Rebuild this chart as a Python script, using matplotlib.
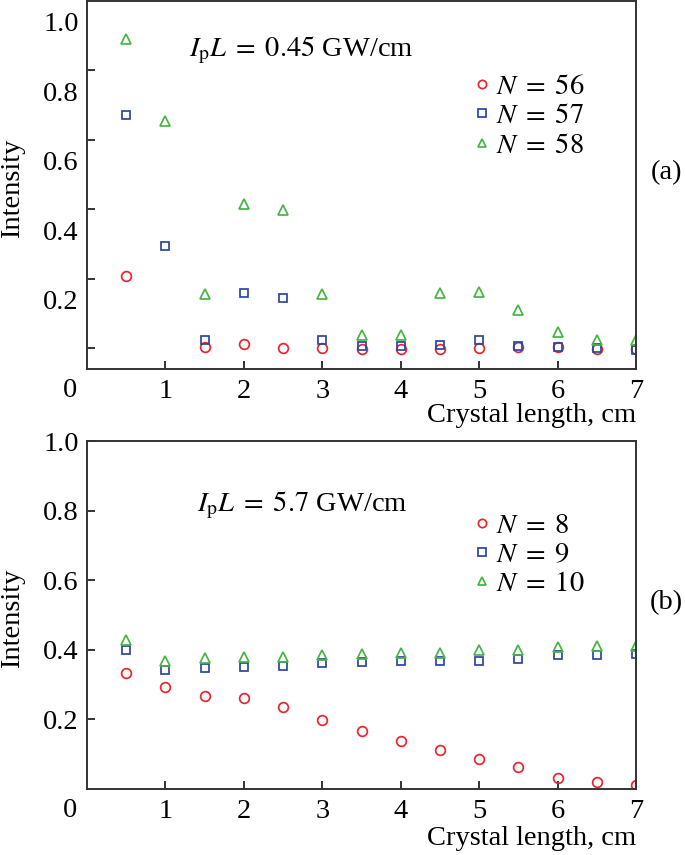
import numpy as np
import matplotlib
matplotlib.use("Agg")
import matplotlib.pyplot as plt

plt.rcParams["font.family"] = "serif"
plt.rcParams["font.serif"] = ["Liberation Serif", "DejaVu Serif"]
plt.rcParams["mathtext.fontset"] = "stix"

# crystal length, cm
length = [0.5, 1.0, 1.5, 2.0, 2.5, 3.0, 3.5, 4.0, 4.5, 5.0, 5.5, 6.0, 6.5, 7.0]

# (a) I_pL = 0.45 GW/cm  (red point at 1 cm is missing in the original)
a_n56 = [0.268, np.nan, 0.064, 0.071, 0.060, 0.060, 0.058, 0.058, 0.057, 0.060, 0.062, 0.062, 0.058, 0.057]
a_n57 = [0.733, 0.355, 0.084, 0.219, 0.204, 0.084, 0.067, 0.067, 0.069, 0.084, 0.067, 0.064, 0.060, 0.055]
a_n58 = [0.950, 0.714, 0.215, 0.476, 0.457, 0.215, 0.098, 0.098, 0.218, 0.223, 0.170, 0.106, 0.084, 0.084]

# (b) I_pL = 5.7 GW/cm
b_n8 = [0.333, 0.293, 0.266, 0.261, 0.237, 0.199, 0.167, 0.139, 0.112, 0.085, 0.062, 0.031, 0.019, 0.012]
b_n9 = [0.400, 0.342, 0.347, 0.352, 0.354, 0.362, 0.364, 0.369, 0.369, 0.369, 0.374, 0.384, 0.384, 0.388]
b_n10 = [0.427, 0.369, 0.376, 0.379, 0.378, 0.386, 0.388, 0.392, 0.392, 0.398, 0.400, 0.407, 0.410, 0.412]

xticks = [1, 2, 3, 4, 5, 6, 7]
ytick_labels = ["0.2", "0.4", "0.6", "0.8", "1.0"]

RED, BLUE, GREEN = "#e8262d", "#2a46a0", "#46b344"
FS = 20.5
SPINE = "#333333"


def style(ax, ylim, xlab_y):
    ax.set_xlim(0, 7)
    ax.set_ylim(*ylim)
    for s in ax.spines.values():
        s.set_linewidth(1.4); s.set_color(SPINE)
    ax.set_xticks(xticks)
    ax.tick_params(direction="in", length=6, width=1.4, color=SPINE,
                   labelsize=FS, pad=6)
    ax.tick_params(axis="x", pad=7)
    ax.set_xlabel("Crystal length, cm", fontsize=FS, ha="right")
    ax.xaxis.set_label_coords(1.0, xlab_y)
    ax.set_ylabel("Intensity", fontsize=FS)
    ax.yaxis.set_label_coords(-0.113, 0.49)
    ax.annotate("0", xy=(0, 0), xycoords="axes fraction", xytext=(-12, -15.5),
                textcoords="offset points", ha="center", va="center", fontsize=FS)


def series(ax, ys, labels, ms=7):
    for y, lab, c, m in zip(ys, labels, (RED, BLUE, GREEN), ("o", "s", "^")):
        ax.plot(length, y, ls="none", marker=m, ms=ms if m != "s" else ms - 0.8,
                mfc="none", mec=c, mew=1.25, label=lab)


def legend(ax, y):
    ax.legend(loc="upper left", bbox_to_anchor=(0.68, y), frameon=False,
              fontsize=FS, handlelength=0.5, handletextpad=0.25, borderpad=0,
              labelspacing=0.12, markerscale=0.85)


fig = plt.figure(figsize=(6.85, 8.55), dpi=100)
ax1 = fig.add_axes([0.127, 0.5684, 0.8015, 0.4304])
ax2 = fig.add_axes([0.127, 0.0772, 0.8015, 0.407])

# --- (a)
series(ax1, [a_n56, a_n57, a_n58], [r"$N\;=\;56$", r"$N\;=\;57$", r"$N\;=\;58$"])
style(ax1, (0, 1.06), -0.092)
# tick labels in the original sit ~0.06 below their tick marks
ax1.set_yticks([0.2, 0.4, 0.6, 0.8, 1.0], ytick_labels)
ax1.tick_params(axis="y", which="major", length=0)
ax1.set_yticks([0.06, 0.26, 0.46, 0.66, 0.86], minor=True)
ax1.tick_params(axis="y", which="minor", direction="in", length=6, width=1.4, color=SPINE)
ax1.text(0.186, 0.867, r"$I_{\rm p}L\;=\;0.45$ GW/cm", transform=ax1.transAxes,
         fontsize=FS, va="center", ha="left")
ax1.text(1.055, 0.535, "(a)", transform=ax1.transAxes, fontsize=FS,
         va="center", ha="center", clip_on=False)
legend(ax1, 0.84)

# --- (b)
series(ax2, [b_n8, b_n9, b_n10], [r"$N\;=\;8$", r"$N\;=\;9$", r"$N\;=\;10$"])
style(ax2, (0, 1.0), -0.106)
ax2.set_yticks([0.2, 0.4, 0.6, 0.8, 1.0], ytick_labels)
ax2.text(0.200, 0.816, r"$I_{\rm p}L\;=\;5.7$ GW/cm", transform=ax2.transAxes,
         fontsize=FS, va="center", ha="left")
ax2.text(1.055, 0.537, "(b)", transform=ax2.transAxes, fontsize=FS,
         va="center", ha="center", clip_on=False)
legend(ax2, 0.835)

fig.savefig("out.png", dpi=100)
